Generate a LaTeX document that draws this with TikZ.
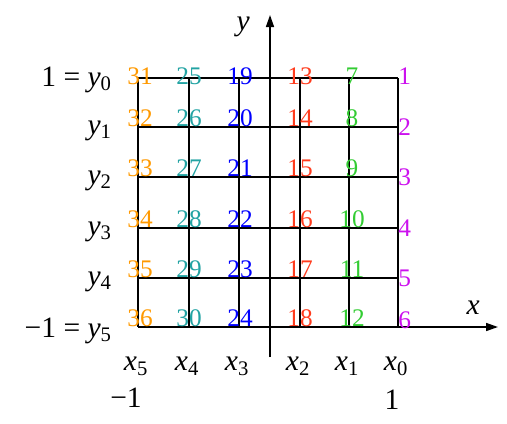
\documentclass[tikz,border=0pt]{standalone}
\usepackage{fontspec}
\setmainfont{Liberation Serif}
\usetikzlibrary{arrows.meta,positioning}
\definecolor{colA}{HTML}{CC11EE}
\definecolor{colB}{HTML}{33CC33}
\definecolor{colC}{HTML}{FF3C1E}
\definecolor{colD}{HTML}{0000FF}
\definecolor{colE}{HTML}{22A3A3}
\definecolor{colF}{HTML}{FF9900}
\newcommand{\varlab}[2]{\textit{#1}\textsubscript{#2}}
\tikzset{
  gridline/.style={line width=1.1pt, black},
  axisline/.style={-{Triangle[length=3mm, width=2mm]}, line width=1.1pt, black},
  numlbl/.style={font=\fontsize{18}{20}\selectfont, inner sep=0pt},
  varlbl/.style={font=\fontsize{21}{24}\selectfont, inner sep=0pt}
}

\begin{document}
\begin{tikzpicture}[x=0.025cm, y=-0.025cm]
  \useasboundingbox (0,0) rectangle (507,423);
  % grid points (column i, row j)
  \foreach \i/\xx in {0/398,1/349,2/300,3/239,4/189,5/138}{
    \foreach \j/\yy in {0/78,1/127,2/177,3/228,4/278,5/327}{
      \coordinate (g\i\j) at (\xx,\yy);
    }
  }
  \coordinate (xend) at (498,327);
  \coordinate (ybot) at (270,357);
  \coordinate (ytop) at (270,15);

  % grid
  \foreach \i in {0,...,5}{
    \draw[gridline] (g\i0) -- (g\i5);
    \draw[gridline] (g5\i) -- (g0\i);
  }
  % axes
  \draw[axisline] (g55) -- (xend);
  \draw[axisline] (ybot) -- (ytop);
  \node[varlbl, above left=0.3cm and 0.45cm of xend] (xlab) {\textit{x}};
  \node[varlbl, below left=0.05cm and 0.5cm of ytop] (ylab) {\textit{y}};

  % numbered points
  \foreach \i/\col/\dx in {1/colB/3,2/colC/0,3/colD/1,4/colE/0,5/colF/2}{
    \foreach \j/\dy in {0/2,1/9,2/9,3/9,4/9,5/9}{
      \pgfmathtruncatemacro{\n}{6*\i+\j+1}
      \node[numlbl, text=\col, xshift=\dx*0.025cm, yshift=\dy*0.025cm] (n\n) at (g\i\j) {\n};
    }
  }
  \foreach \j/\dy in {0/2,1/0,2/0,3/0,4/0,5/7}{
    \pgfmathtruncatemacro{\n}{\j+1}
    \node[numlbl, text=colA, anchor=west, yshift=\dy*0.025cm] (n\n) at (g0\j) {\n};
  }

  % y labels
  \node[varlbl, left=0.65cm of g50, yshift=-0.05cm] (ly0) {1 = \varlab{y}{0}};
  \foreach \j in {1,...,5}{
    \ifnum\j=5
      \node[varlbl, left=0.65cm of g5\j, yshift=-0.1cm] (ly\j) {−1 = \varlab{y}{\j}};
    \else
      \node[varlbl, left=0.65cm of g5\j, yshift=-0.1cm] (ly\j) {\varlab{y}{\j}};
    \fi
  }
  % x labels
  \foreach \i in {0,...,5}{
    \node[varlbl, below=0.75cm of g\i5, xshift=-0.05cm] (lx\i) {\varlab{x}{\i}};
  }
  \node[varlbl, below=0.3cm of lx5, xshift=-0.25cm] (mone) {−1};
  \node[varlbl, below=0.35cm of lx0, xshift=-0.1cm] (pone) {1};
\end{tikzpicture}
\end{document}
